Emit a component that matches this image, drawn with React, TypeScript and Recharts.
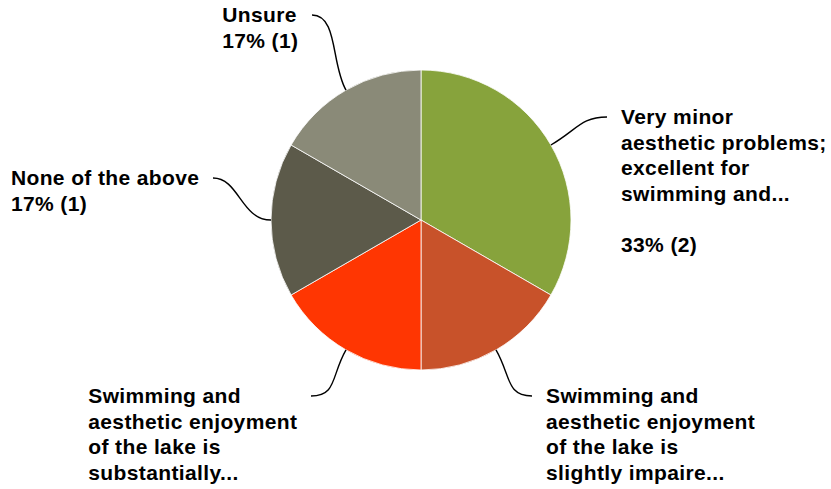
import { PieChart, Pie, Cell } from "recharts";

const SLICE_NAMES = [
  "Very minor aesthetic problems; excellent for swimming and...",
  "Swimming and aesthetic enjoyment of the lake is slightly impaire...",
  "Swimming and aesthetic enjoyment of the lake is substantially...",
  "None of the above",
  "Unsure",
];
const COUNTS = [2, 1, 1, 1, 1];
const COLORS = ["#87a33c", "#c8522a", "#ff3602", "#5c5a4a", "#8a8a78"];

// label text as shown on the chart (long names are cut off)
const LABEL_LINES = [
  ["Very minor", "aesthetic problems;", "excellent for", "swimming and..."],
  ["Swimming and", "aesthetic enjoyment", "of the lake is", "slightly impaire..."],
  ["Swimming and", "aesthetic enjoyment", "of the lake is", "substantially..."],
  ["None of the above"],
  ["Unsure"],
];
// how the percentage is shown under each label
const VALUE_MODE = ["gap", "none", "none", "inline", "inline"];

// where each leader line ends, relative to the pie centre
const LEADER_ENDS = [
  [186, -103],
  [111, 176],
  [-110, 176],
  [-208, -42],
  [-109, -205],
];

const FONT_SIZE = 21;
const SPACING = 0.38;
const LINE_H = 25.5;
const FONT = `bold ${FONT_SIZE}px "Liberation Sans", Arial, sans-serif`;

const total = COUNTS.reduce((a, b) => a + b, 0);
const data = SLICE_NAMES.map((name, i) => ({ name, value: COUNTS[i] }));

let ctx: CanvasRenderingContext2D | null = null;
function textWidth(s: string) {
  if (!ctx) ctx = document.createElement("canvas").getContext("2d");
  if (!ctx) return s.length * 11;
  ctx.font = FONT;
  return ctx.measureText(s).width + (s.length - 1) * SPACING;
}

const RADIAN = Math.PI / 180;

function renderLabel(props: any) {
  const { cx, cy, midAngle, outerRadius, index } = props;
  const cos = Math.cos(-midAngle * RADIAN);
  const sin = Math.sin(-midAngle * RADIAN);
  const sx = cx + outerRadius * cos;
  const sy = cy + outerRadius * sin;
  const [dx, dy] = LEADER_ENDS[index];
  const ex = cx + dx;
  const ey = cy + dy;
  const right = dx > 0;
  const c1x = sx + 30 * cos;
  const c1y = sy + 30 * sin;
  const c2x = ex + (right ? -26 : 26);
  const c2y = ey;

  const pct = `${Math.round((COUNTS[index] / total) * 100)}% (${COUNTS[index]})`;
  const lines = [...LABEL_LINES[index]];
  if (VALUE_MODE[index] === "gap") lines.push("", pct);
  if (VALUE_MODE[index] === "inline") lines.push(pct);

  const blockW = Math.max(...lines.map(textWidth));
  const tx = right ? ex + 14 : ex - 14 - blockW;

  return (
    <g key={`lbl-${index}`}>
      <path
        d={`M${sx},${sy} C${c1x},${c1y} ${c2x},${c2y} ${ex},${ey}`}
        stroke="#000"
        strokeWidth={1.4}
        fill="none"
      />
      <text
        x={tx}
        y={ey + 7}
        fill="#000"
        fontFamily='"Liberation Sans", Arial, sans-serif'
        fontWeight="bold"
        fontSize={FONT_SIZE}
        letterSpacing={SPACING}
        textAnchor="start"
      >
        {lines.map((l, i) => (
          <tspan key={i} x={tx} y={ey + 7 + i * LINE_H}>
            {l}
          </tspan>
        ))}
      </text>
    </g>
  );
}

export default function App() {
  return (
    <div style={{ position: "absolute", left: 0, top: 0, width: 831, height: 489, background: "#fff" }}>
      <PieChart width={831} height={489} margin={{ top: 0, right: 0, bottom: 0, left: 0 }}>
        <Pie
          data={data}
          dataKey="value"
          nameKey="name"
          cx={421}
          cy={220}
          outerRadius={150}
          startAngle={90}
          endAngle={-270}
          stroke="#ffffff"
          strokeWidth={0.8}
          label={renderLabel}
          labelLine={false}
          isAnimationActive={false}
        >
          {data.map((entry, index) => (
            <Cell key={`cell-${index}`} fill={COLORS[index]} />
          ))}
        </Pie>
      </PieChart>
    </div>
  );
}
